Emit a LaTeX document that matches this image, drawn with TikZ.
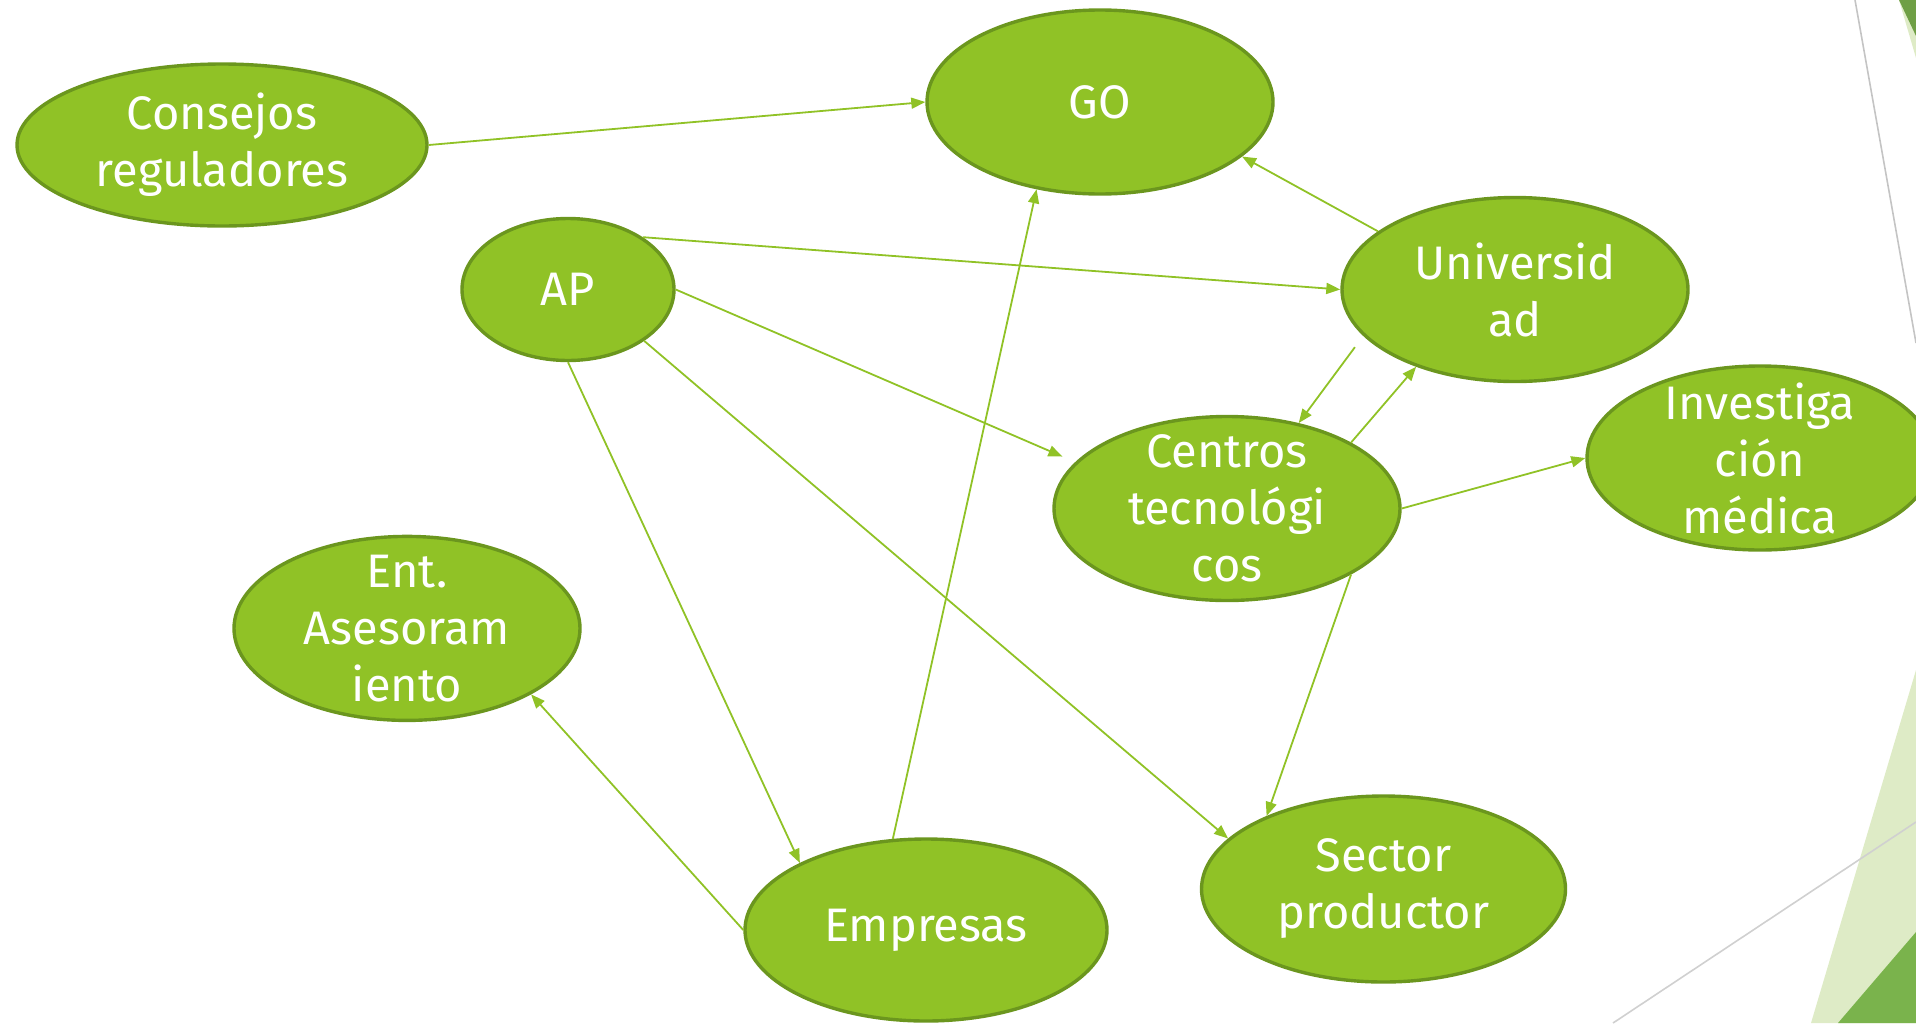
\documentclass[tikz,border=0pt]{standalone}
\usepackage{fontspec}
\setmainfont{Fira Sans}
\usetikzlibrary{arrows.meta,shapes.geometric}
\definecolor{nodefill}{HTML}{90C226}
\definecolor{nodeline}{HTML}{6B961E}
\definecolor{edgecol}{HTML}{90C226}
\definecolor{lightdeco}{HTML}{DEEBC6}
\definecolor{darkdeco}{HTML}{7AB34C}
\definecolor{topdeco}{HTML}{6F9F45}
\definecolor{greyline}{HTML}{C4C4C4}
\tikzset{
  bubble/.style={ellipse, draw=nodeline, fill=nodefill, line width=1.7pt, inner sep=0pt},
  bubbletext/.style={text=white, align=center, font=\fontsize{23.5}{28.5}\selectfont, inner sep=0pt},
  link/.style={draw=edgecol, line width=0.9pt, -{Triangle[length=7pt,width=5.5pt]}},
  deco/.style={draw=none}
}
\begin{document}
\begin{tikzpicture}[x=0.5pt,y=-0.5pt]
\useasboundingbox (0,0) rectangle (1916,1023);
\clip (0,0) rectangle (1916,1023);
% background decoration
\fill[lightdeco] (1916,670) -- (1811,1023) -- (1916,1023) -- cycle;
\fill[darkdeco] (1916,932) -- (1838,1023) -- (1916,1023) -- cycle;
\fill[lightdeco] (1899,0) -- (1916,58) -- (1916,0) -- cycle;
\fill[topdeco] (1899,0) -- (1916,36) -- (1916,0) -- cycle;
\draw[greyline, line width=0.8pt] (1855,0) -- (1916,343);
\draw[greyline!80, line width=0.8pt] (1613,1023) -- (1916,822);
% nodes
\node[bubble, minimum width=205pt, minimum height=81pt,
  label={[bubbletext]center:{Consejos\\reguladores}}] (cons) at (222,145) {};
\node[bubble, minimum width=173pt, minimum height=92pt,
  label={[bubbletext]center:{GO}}] (go) at (1100,102) {};
\node[bubble, minimum width=106pt, minimum height=71pt,
  label={[bubbletext]center:{AP}}] (ap) at (568,289.5) {};
\node[bubble, minimum width=173pt, minimum height=92pt,
  label={[bubbletext]center:{Universid\\ad}}] (univ) at (1515,289.5) {};
\node[bubble, minimum width=173pt, minimum height=92pt,
  label={[bubbletext]center:{Centros\\tecnológi\\cos}}] (centros) at (1227,508.5) {};
\node[bubble, minimum width=173pt, minimum height=92pt,
  label={[bubbletext]center:{Investiga\\ción\\médica}}] (invest) at (1760,458) {};
\node[bubble, minimum width=173pt, minimum height=92pt,
  label={[bubbletext]center:{Ent.\\Asesoram\\iento}}] (ent) at (407,628.4) {};
\node[bubble, minimum width=181pt, minimum height=91pt,
  label={[bubbletext]center:{Empresas}}] (empresas) at (926,930) {};
\node[bubble, minimum width=182pt, minimum height=93pt,
  label={[bubbletext]center:{Sector\\productor}}] (sector) at (1383.5,889) {};
% connectors
\draw[link] (cons.0) -- (go.180);
\draw[link] (univ.157) -- (go.-21);
\draw[link] (ap.35) -- (univ.180);
\draw[link, shorten >=7pt] (ap.0) -- (centros.163);
\draw[link] (ap.-34) -- (sector.162);
\draw[link] (ap.-90) -- (empresas.152.5);
\draw[link] (empresas.110.7) -- (go.234);
\draw[link] (empresas.180) -- (ent.-28.6);
\draw[link, shorten <=7pt] (univ.197) -- (centros.50.5);
\draw[link] (centros.28.5) -- (univ.218.8);
\draw[link] (centros.0) -- (invest.180);
\draw[link] (centros.-28.5) -- (sector.148.6);
\end{tikzpicture}
\end{document}
